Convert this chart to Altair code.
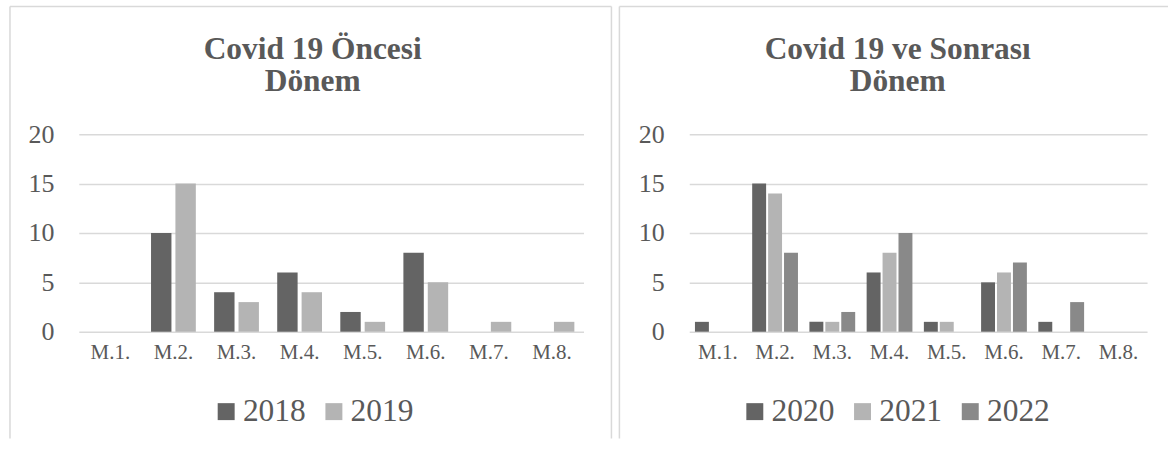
import altair as alt
import pandas as pd

categories = ["M.1.", "M.2.", "M.3.", "M.4.", "M.5.", "M.6.", "M.7.", "M.8."]

years_pre = ["2018", "2019"]
v2018 = [0, 10, 4, 6, 2, 8, 0, 0]
v2019 = [0, 15, 3, 4, 1, 5, 1, 1]

years_post = ["2020", "2021", "2022"]
v2020 = [1, 15, 1, 6, 1, 5, 1, 0]
v2021 = [0, 14, 1, 8, 1, 6, 0, 0]
v2022 = [0, 8, 2, 10, 0, 7, 3, 0]

y_ticks = [0, 5, 10, 15, 20]

title_pre = ["Covid 19 Öncesi", "Dönem"]
title_post = ["Covid 19 ve Sonrası", "Dönem"]

colors_pre = ["#646464", "#b4b4b4"]
colors_post = ["#646464", "#b4b4b4", "#898989"]

FONT = "Liberation Serif"
TXT = "#595959"
GRID = "#d9d9d9"


def long_df(years, series):
    rows = []
    for yr, vals in zip(years, series):
        for c, v in zip(categories, vals):
            rows.append({"cat": c, "year": yr, "value": v})
    return pd.DataFrame(rows)


one = pd.DataFrame({"k": [0]})


def rule(x, y, x2=None, y2=None):
    enc = dict(x=alt.value(x), y=alt.value(y))
    if x2 is not None:
        enc["x2"] = alt.value(x2)
    if y2 is not None:
        enc["y2"] = alt.value(y2)
    return alt.Chart(one).mark_rule(color=GRID, strokeWidth=1.5).encode(**enc)


def panel(df, years, colors, title, width, pad_in, off_pad, legend_x, title_x, borders):
    bars = alt.Chart(df).mark_bar().encode(
        x=alt.X(
            "cat:N",
            sort=categories,
            scale=alt.Scale(paddingInner=pad_in, paddingOuter=pad_in / 2),
            axis=alt.Axis(
                title=None, labelAngle=0, labelFont=FONT, labelFontSize=21,
                labelColor=TXT, labelPadding=10, ticks=False, domain=False,
                grid=False,
            ),
        ),
        xOffset=alt.XOffset(
            "year:N", sort=years,
            scale=alt.Scale(paddingInner=off_pad, paddingOuter=0),
        ),
        y=alt.Y(
            "value:Q",
            scale=alt.Scale(domain=[0, 20]),
            axis=alt.Axis(
                title=None, values=y_ticks, grid=True, gridColor=GRID,
                gridWidth=1.5, domain=False, ticks=False, tickSize=0,
                labelFont=FONT, labelFontSize=26, labelColor=TXT,
                labelPadding=25,
            ),
        ),
        color=alt.Color(
            "year:N",
            sort=years,
            scale=alt.Scale(domain=years, range=colors),
            legend=alt.Legend(
                title=None, orient="none", legendX=legend_x, legendY=262,
                direction="horizontal", symbolType="square", symbolSize=289,
                symbolStrokeWidth=0, labelFont=FONT, labelFontSize=31.5,
                labelColor=TXT, labelOffset=1, columnPadding=12, padding=0,
            ),
        ),
    )
    ttl = alt.Chart(one).mark_text(
        text=title, font=FONT, fontSize=31.5, fontWeight="bold", color=TXT,
        align="center", baseline="alphabetic", lineHeight=32,
    ).encode(x=alt.value(title_x), y=alt.value(-75))
    return alt.layer(*borders, ttl, bars).properties(width=width, height=198)


df_pre = long_df(years_pre, [v2018, v2019])
df_post = long_df(years_post, [v2020, v2021, v2022])

left = panel(
    df_pre, years_pre, colors_pre, title_pre, 506, 0.29, 0.163, 132, 234.5,
    [rule(-69, -128, y2=305), rule(-69, -128, x2=534), rule(534, -128, y2=305)],
)
right = panel(
    df_post, years_post, colors_post, title_post, 459, 0.2, 0.125, 50, 209,
    [rule(-70, -128, y2=305), rule(-70, -128, x2=480)],
)

chart = (
    alt.hconcat(left, right, spacing=4)
    .resolve_scale(color="independent", x="independent", xOffset="independent")
    .properties(padding={"left": 8, "top": 4, "right": 0, "bottom": 0}, background="white")
    .configure_view(stroke="transparent")
)

chart.save("out.html", embed_options={"renderer": "svg", "actions": False})
